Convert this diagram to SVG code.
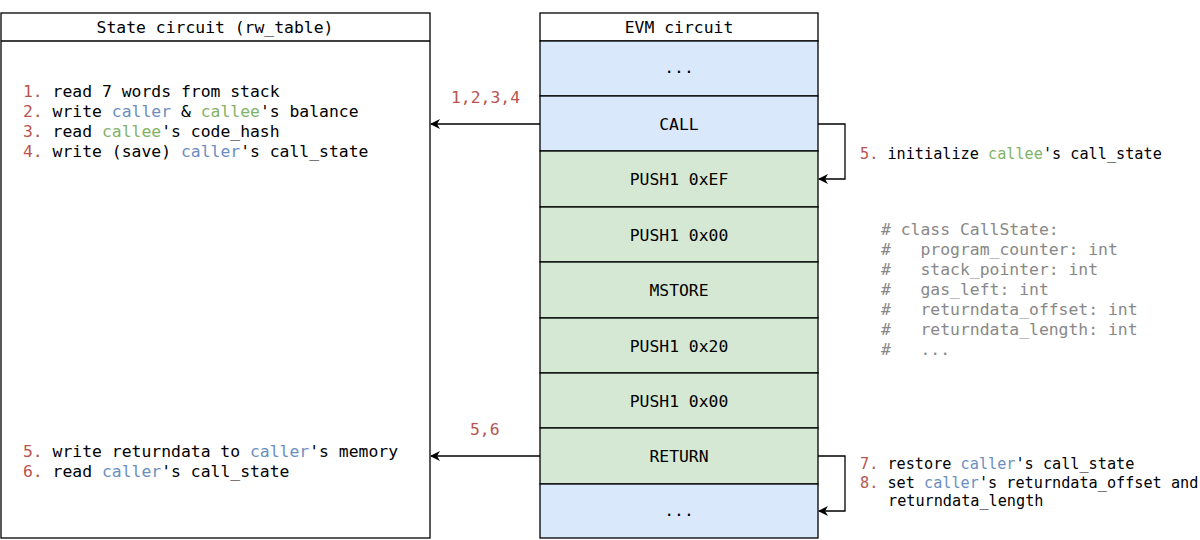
<svg xmlns="http://www.w3.org/2000/svg" width="1200" height="540" viewBox="0 0 1200 540">
<style>
text{font-family:"DejaVu Sans Mono","Liberation Mono",monospace;font-size:16.4px;fill:#000}
.c{text-anchor:middle}
.s{font-size:15.2px}
.r{fill:#b85450}
.b{fill:#6c8ebf}
.g{fill:#82b366}
.k{fill:#888888}
.box{fill:#ffffff;stroke:#000;stroke-width:1.3}
.blue{fill:#dae8fc;stroke:#000;stroke-width:1.3}
.green{fill:#d5e8d4;stroke:#000;stroke-width:1.3}
.edge{fill:none;stroke:#000;stroke-width:1.3}
</style>
<defs>
<marker id="arr" viewBox="0 0 10 10" refX="9" refY="5" markerWidth="10" markerHeight="10" markerUnits="userSpaceOnUse" orient="auto">
<path d="M0,0 L10,5 L0,10 L3,5 z" fill="#000"/>
</marker>
</defs>

<g id="state-circuit">
<rect class="box" x="1" y="13" width="429" height="525"/>
<line class="edge" x1="1" y1="41" x2="430" y2="41"/>
<text class="c" x="215" y="33">State circuit (rw_table)</text>
<text x="23" y="97"><tspan class="r">1.</tspan> read 7 words from stack</text>
<text x="23" y="117"><tspan class="r">2.</tspan> write <tspan class="b">caller</tspan> &amp; <tspan class="g">callee</tspan>'s balance</text>
<text x="23" y="137"><tspan class="r">3.</tspan> read <tspan class="g">callee</tspan>'s code_hash</text>
<text x="23" y="157"><tspan class="r">4.</tspan> write (save) <tspan class="b">caller</tspan>'s call_state</text>
<text x="23" y="457"><tspan class="r">5.</tspan> write returndata to <tspan class="b">caller</tspan>'s memory</text>
<text x="23" y="477"><tspan class="r">6.</tspan> read <tspan class="b">caller</tspan>'s call_state</text>
</g>

<g id="evm-circuit">
<rect class="box" x="540" y="13" width="278" height="28"/>
<text class="c" x="679" y="33">EVM circuit</text>
<g id="row-dots-top"><rect class="blue" x="540" y="41" width="278" height="55"/><text class="c" x="679" y="73">...</text></g>
<g id="row-call"><rect class="blue" x="540" y="96" width="278" height="55"/><text class="c" x="679" y="130">CALL</text></g>
<g id="row-push-ef"><rect class="green" x="540" y="151" width="278" height="56"/><text class="c" x="679" y="185">PUSH1 0xEF</text></g>
<g id="row-push-00a"><rect class="green" x="540" y="207" width="278" height="55"/><text class="c" x="679" y="241">PUSH1 0x00</text></g>
<g id="row-mstore"><rect class="green" x="540" y="262" width="278" height="56"/><text class="c" x="679" y="296">MSTORE</text></g>
<g id="row-push-20"><rect class="green" x="540" y="318" width="278" height="55"/><text class="c" x="679" y="352">PUSH1 0x20</text></g>
<g id="row-push-00b"><rect class="green" x="540" y="373" width="278" height="55"/><text class="c" x="679" y="407">PUSH1 0x00</text></g>
<g id="row-return"><rect class="green" x="540" y="428" width="278" height="56"/><text class="c" x="679" y="462">RETURN</text></g>
<g id="row-dots-bottom"><rect class="blue" x="540" y="484" width="278" height="54"/><text class="c" x="679" y="516">...</text></g>
</g>

<g id="connectors">
<line class="edge" x1="540" y1="124" x2="431" y2="124" marker-end="url(#arr)"/>
<line class="edge" x1="540" y1="456" x2="431" y2="456" marker-end="url(#arr)"/>
<polyline class="edge" points="818,124 845,124 845,179 819,179" marker-end="url(#arr)"/>
<polyline class="edge" points="818,456 845,456 845,511 819,511" marker-end="url(#arr)"/>
<text class="r" x="451" y="103">1,2,3,4</text>
<text class="r" x="470" y="435">5,6</text>
</g>

<g id="annotations">
<text class="s" x="860" y="159"><tspan class="r">5.</tspan> initialize <tspan class="g">callee</tspan>'s call_state</text>
<text class="k" x="881" y="235" xml:space="preserve"># class CallState:</text>
<text class="k" x="881" y="255" xml:space="preserve">#   program_counter: int</text>
<text class="k" x="881" y="275" xml:space="preserve">#   stack_pointer: int</text>
<text class="k" x="881" y="295" xml:space="preserve">#   gas_left: int</text>
<text class="k" x="881" y="315" xml:space="preserve">#   returndata_offset: int</text>
<text class="k" x="881" y="335" xml:space="preserve">#   returndata_length: int</text>
<text class="k" x="881" y="355" xml:space="preserve">#   ...</text>
<text class="s" x="860" y="469"><tspan class="r">7.</tspan> restore <tspan class="b">caller</tspan>'s call_state</text>
<text class="s" x="860" y="488"><tspan class="r">8.</tspan> set <tspan class="b">caller</tspan>'s returndata_offset and</text>
<text class="s" x="888" y="506">returndata_length</text>
</g>
</svg>
